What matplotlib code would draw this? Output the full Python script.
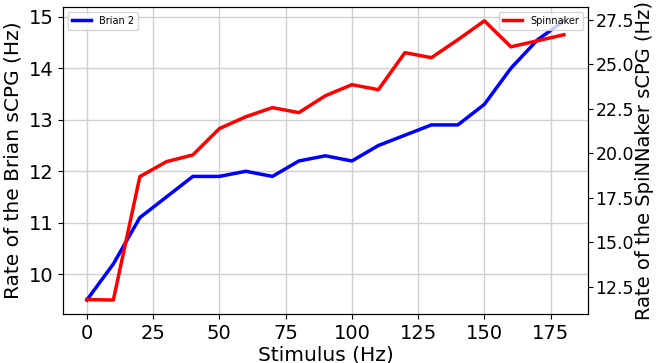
import matplotlib
matplotlib.use("Agg")
import matplotlib.pyplot as plt

stimulus = [0, 10, 20, 30, 40, 50, 60, 70, 80, 90, 100, 110, 120, 130, 140, 150, 160, 170, 180]
brian = [9.5, 10.2, 11.1, 11.5, 11.9, 11.9, 12.0, 11.9, 12.2, 12.3, 12.2, 12.5, 12.7, 12.9, 12.9, 13.3, 14.0, 14.55, 14.92]
spinnaker = [11.77, 11.74, 18.68, 19.52, 19.9, 21.38, 22.05, 22.56, 22.28, 23.23, 23.85, 23.57,
             25.65, 25.37, 26.38, 27.44, 25.98, 26.32, 26.66]

fig = plt.figure(figsize=(6.56, 3.63), dpi=100)
ax = fig.add_axes([0.096, 0.135, 0.80, 0.846])
ax.plot(stimulus, brian, color="blue", lw=2.5, label="Brian 2")
ax.grid(True, color="#d0d0d0", lw=1)
ax.set_xlabel("Stimulus (Hz)", fontsize=14.5, labelpad=2)
ax.set_ylabel("Rate of the Brian sCPG (Hz)", fontsize=14.5)
ax.tick_params(labelsize=14)
ax.set_xticks([0, 25, 50, 75, 100, 125, 150, 175])
ax.legend(loc="upper left", fontsize=7)

ax2 = ax.twinx()
ax2.plot(stimulus, spinnaker, color="red", lw=2.5, label="Spinnaker")
ax2.set_ylabel("Rate of the SpiNNaker sCPG (Hz)", fontsize=14, labelpad=1)
ax2.tick_params(labelsize=12.5, pad=2)
ax2.set_yticks([12.5, 15.0, 17.5, 20.0, 22.5, 25.0, 27.5])
ax2.legend(loc="upper right", fontsize=7)

fig.savefig("out.png", dpi=100)
